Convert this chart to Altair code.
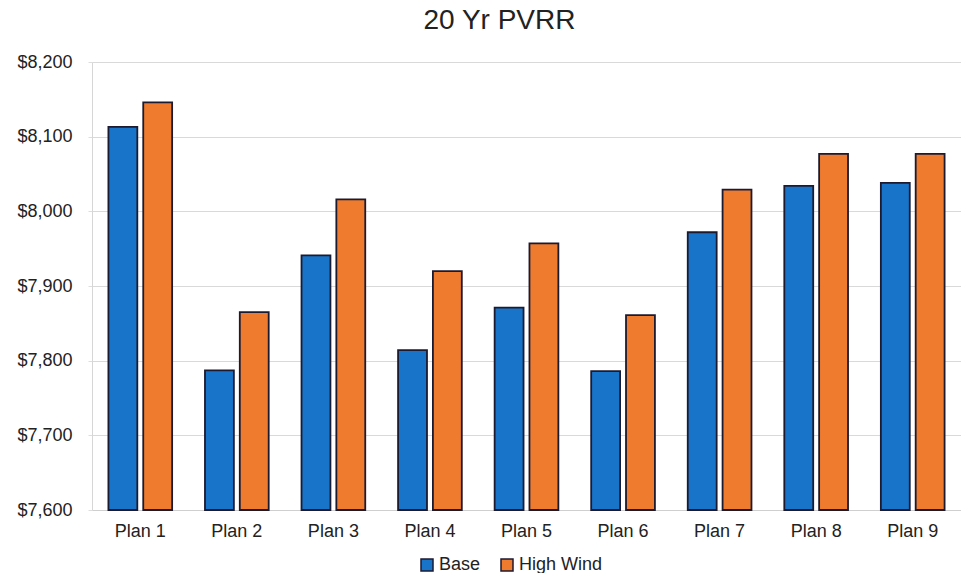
import altair as alt
import pandas as pd

plans = ["Plan 1", "Plan 2", "Plan 3", "Plan 4", "Plan 5", "Plan 6", "Plan 7", "Plan 8", "Plan 9"]
base = [8113, 7787, 7941, 7814, 7871, 7786, 7972, 8034, 8038]
high_wind = [8146, 7865, 8016, 7920, 7957, 7861, 8029, 8077, 8077]
series = ["Base", "High Wind"]
colors = ["#1874c8", "#ee7b2e"]
y_ticks = [7600, 7700, 7800, 7900, 8000, 8100, 8200]

rows = []
for p, b, h in zip(plans, base, high_wind):
    rows.append({"plan": p, "series": series[0], "value": b})
    rows.append({"plan": p, "series": series[1], "value": h})
df = pd.DataFrame(rows)

FONT = "Liberation Sans"

chart = alt.Chart(df).mark_bar(
    stroke="#1c1a30", strokeWidth=1.8
).encode(
    x=alt.X("plan:N", sort=plans, title=None,
            scale=alt.Scale(paddingInner=0.34, paddingOuter=0.17),
            axis=alt.Axis(labelAngle=0, labelFontSize=18, labelFont=FONT, labelColor="#222222",
                          labelPadding=12, ticks=False, domainColor="#cfcfcf", domainWidth=1)),
    xOffset=alt.XOffset("series:N", sort=series, scale=alt.Scale(paddingInner=0.17, paddingOuter=0)),
    y=alt.Y("value:Q", title=None,
            scale=alt.Scale(domain=[7600, 8200], zero=False, nice=False),
            axis=alt.Axis(values=y_ticks, format="$,.0f", labelFontSize=18, labelFont=FONT,
                          labelColor="#222222", labelPadding=16, tickSize=4, tickColor="#dddddd",
                          domainColor="#d6d6d6", gridColor="#d9d9d9", gridWidth=1)),
    y2=alt.datum(7600),
    color=alt.Color("series:N", sort=series, title=None,
                    scale=alt.Scale(domain=series, range=colors),
                    legend=alt.Legend(orient="none", legendX=326, legendY=494, direction="horizontal",
                                      symbolType="square", symbolSize=144, symbolStrokeColor="#1c1a30",
                                      symbolStrokeWidth=1.5, labelFontSize=18, labelFont=FONT,
                                      labelColor="#222222", columnPadding=17, labelOffset=3,
                                      padding=0)),
).properties(
    width=869,
    height=448,
    title=alt.TitleParams("20 Yr PVRR", fontSize=28, font=FONT, fontWeight="normal",
                          color="#222222", anchor="middle", dx=-27, offset=18),
    autosize=alt.AutoSizeParams(type="none"),
    padding={"left": 84, "top": 54, "right": 0, "bottom": 63},
).configure_view(stroke=None)

chart.save("out.html", embed_options={"renderer": "svg", "actions": False})
